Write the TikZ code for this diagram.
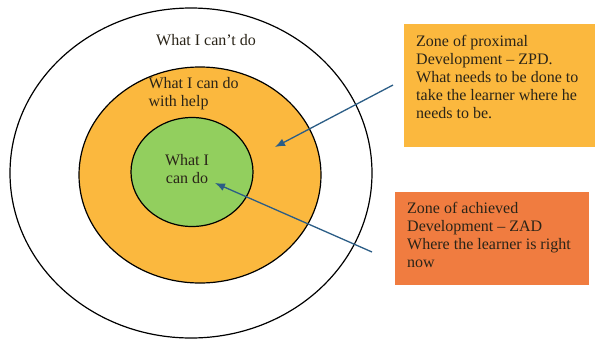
\documentclass[tikz,border=0pt]{standalone}
\usepackage{fontspec}
\setmainfont{Liberation Serif}
\usepackage{xcolor}
\usepackage{tikz}
\usetikzlibrary{shapes.geometric,arrows.meta,positioning}

\definecolor{helporange}{HTML}{FBB83E}
\definecolor{cangreen}{HTML}{92CF5E}
\definecolor{zadorange}{HTML}{F07C40}
\definecolor{arrowblue}{HTML}{2B5D86}
\definecolor{textdark}{HTML}{2A2418}

\begin{document}
\begin{tikzpicture}
    [
        x=1pt, y=-1pt,
        font=\fontsize{16}{18}\selectfont,
        text=textdark
    ]
    \tikzset{
        zone/.style = {ellipse, draw=black, line width=1.2pt, inner sep=0pt},
        infobox/.style = {rectangle, anchor=north west, inner xsep=12pt, inner ysep=11pt, align=left},
        pointer/.style = {draw=arrowblue, line width=1.3pt, -{Latex[length=10pt,width=8pt]}}
    }
    \useasboundingbox (0,0) rectangle (595,341);
    % the three zones
    \node [zone, fill=white, minimum width=362pt, minimum height=330pt] (cant) at (191,173) {};
    \node [zone, fill=helporange, minimum width=242pt, minimum height=216pt] (help) at (200,175) {};
    \node [zone, fill=cangreen, minimum width=122pt, minimum height=109pt] (can) at (192,172) {};
    % zone labels
    \node (cantlbl) at (206,40) {What I can't do};
    \node [anchor=west, align=left] (helplbl) at (145,94) {What I can do\\with help};
    \node [align=center] (canlbl) at (187,169) {What I\\can do};
    % explanation boxes
    \node [infobox, fill=helporange] (zpd) at (404,24)
        {\parbox[c][101pt][t]{170pt}{Zone of proximal\\Development -- ZPD.\\What needs to be done to\\take the learner where he\\needs to be.}};
    \node [infobox, fill=zadorange, inner ysep=10pt] (zad) at (395,192)
        {\parbox[c][73pt][t]{170pt}{Zone of achieved\\Development -- ZAD\\Where the learner is right\\now}};
    % arrows into the zones
    \coordinate (zpdtail) at (393,85);
    \coordinate (zpdtip) at (275,147);
    \coordinate (zadtail) at (372,252);
    \coordinate (zadtip) at (215,183);
    \draw [pointer] (zpdtail) -- (zpdtip);
    \draw [pointer] (zadtail) -- (zadtip);
\end{tikzpicture}
\end{document}
